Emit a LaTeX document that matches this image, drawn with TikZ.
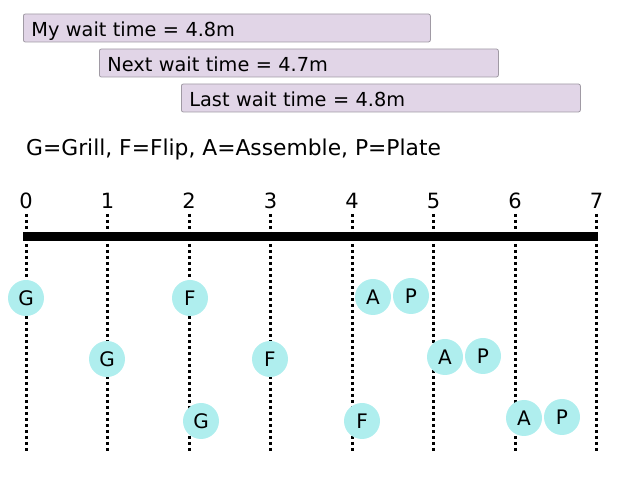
\documentclass[tikz,border=0pt]{standalone}
\usepackage{fontspec}
\setmainfont{DejaVu Sans}
\definecolor{boxfill}{HTML}{E1D5E7}
\definecolor{boxline}{HTML}{A09AA4}
\definecolor{stepfill}{HTML}{AFEEEE}
\begin{document}
\begin{tikzpicture}[x=1pt,y=-1pt,
  waitbox/.style={draw=boxline,fill=boxfill,rounded corners=2pt,line width=0.8pt,
    anchor=west,minimum height=28pt,text height=21pt,text depth=3pt,inner xsep=8pt,inner ysep=0pt,align=left,
    font=\fontsize{19.3}{22}\selectfont},
  tick/.style={font=\fontsize{21}{24}\selectfont,inner sep=0pt},
  guide/.style={line width=3pt,dash pattern=on 3pt off 3pt},
  stepnode/.style={circle,fill=stepfill,minimum size=36pt,inner sep=0pt,
    font=\fontsize{20}{22}\selectfont}]
\useasboundingbox (0,0) rectangle (625,478);
% wait time boxes
\node[waitbox,text width=391pt] (w1) at (23,28) {My wait time = 4.8m};
\node[waitbox,text width=383pt] (w2) at (99,63) {Next wait time = 4.7m};
\node[waitbox,text width=383pt] (w3) at (181,98) {Last wait time = 4.8m};
\node[anchor=west,inner sep=0pt,font=\fontsize{21.8}{24}\selectfont] (legend) at (26,149.5) {G=Grill, F=Flip, A=Assemble, P=Plate};
% ticks and guides
\foreach \i/\x in {0/26,1/107.5,2/189,3/270.5,4/352,5/433.5,6/515,7/596.5}{
  \node[tick] (t\i) at (\x,200.5) {\i};
  \coordinate (top\i) at (\x,214);
  \coordinate (bot\i) at (\x,453);
  \draw[guide] (top\i) -- (bot\i);
}
% timeline bar
\coordinate (bl) at (23,236.5);
\coordinate (br) at (598,236.5);
\draw[line width=9pt] (bl) -- (br);
% row 1
\node[stepnode] (g1) at (26,298) {G};
\node[stepnode] (f1) at (190,298) {F};
\node[stepnode] (a1) at (373,297) {A};
\node[stepnode] (p1) at (411,296) {P};
% row 2
\node[stepnode] (g2) at (107,359) {G};
\node[stepnode] (f2) at (270,359) {F};
\node[stepnode] (a2) at (445,357) {A};
\node[stepnode] (p2) at (483,356) {P};
% row 3
\node[stepnode] (g3) at (201,421) {G};
\node[stepnode] (f3) at (362,421) {F};
\node[stepnode] (a3) at (524,418) {A};
\node[stepnode] (p3) at (562,417) {P};
\end{tikzpicture}
\end{document}
